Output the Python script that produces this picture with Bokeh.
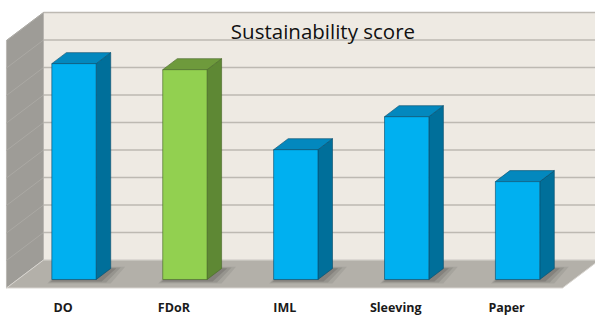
from bokeh.plotting import figure
from bokeh.models import Range1d, ColumnDataSource
from bokeh.embed import file_html
from bokeh.resources import INLINE
from bokeh.core.properties import value

# ---- data ----
categories = ["DO", "FDoR", "IML", "Sleeving", "Paper"]
scores = [7.85, 7.63, 4.72, 5.92, 3.56]
highlight = [False, True, False, False, False]
grid_levels = list(range(1, 10))
title_text = "Sustainability score"

# ---- layout constants (data units) ----
BAR_W = 0.40
BAR_DX, BAR_DY = 0.131, 0.40
WALL_DX, WALL_DY = 0.334, 1.018
FLOOR_Y0 = -0.309
FLOOR_X0, FLOOR_X1 = -0.609, 4.405
WALL_H = 9
BASE = FLOOR_Y0 + WALL_DY

BLUE = dict(front="#00B0F0", top="#0388BE", side="#006F9A", edge="#0A4F6E")
GREEN = dict(front="#92D050", top="#6E9A3C", side="#5E8834", edge="#4A6A2A")

p = figure(width=595, height=316, output_backend="svg", toolbar_location=None,
           x_range=Range1d(-0.6628, 4.7025), y_range=Range1d(-1.3455, 10.1455),
           min_border=0, background_fill_color="white", border_fill_color="white",
           outline_line_color=None)
p.axis.visible = False
p.grid.visible = False

# back wall
bx0, bx1 = FLOOR_X0 + WALL_DX, FLOOR_X1 + WALL_DX
p.patch([bx0, bx1, bx1, bx0], [BASE, BASE, BASE + WALL_H, BASE + WALL_H],
        fill_color="#EEEAE3", line_color="#D2CEC8", line_width=1)
# side wall
p.patch([FLOOR_X0, bx0, bx0, FLOOR_X0],
        [FLOOR_Y0, BASE, BASE + WALL_H, FLOOR_Y0 + WALL_H],
        fill_color="#9E9C97", line_color="#B8B5B0", line_width=0.8)
# gridlines
p.multi_line([[bx0, bx1] for k in grid_levels],
             [[BASE + k, BASE + k] for k in grid_levels],
             line_color="#BDB9B2", line_width=1.6)
p.multi_line([[FLOOR_X0, bx0] for k in grid_levels],
             [[FLOOR_Y0 + k, BASE + k] for k in grid_levels],
             line_color="#ABA9A4", line_width=1.0)
# floor
p.patch([FLOOR_X0, FLOOR_X1, bx1, bx0], [FLOOR_Y0, FLOOR_Y0, BASE, BASE],
        fill_color="#B3B0A9", line_color="#D8D5D0", line_width=1)

# shadows
for grow, alpha in [(0.10, 0.10), (0.06, 0.14), (0.02, 0.20)]:
    xs, ys = [], []
    for i in range(len(scores)):
        l = i - BAR_W / 2 - grow * 0.4
        r = i + BAR_W / 2 + grow + 0.03
        xs.append([l, r, r + BAR_DX, l + BAR_DX])
        ys.append([-0.05 - grow, -0.05 - grow, BAR_DY + grow * 0.6, BAR_DY + grow * 0.6])
    p.patches(xs, ys, fill_color="#3A3936", fill_alpha=alpha, line_color=None)

# bars
fx, fy, sx, sy, tx, ty = [], [], [], [], [], []
fc, sc, tc, ec = [], [], [], []
for i, v in enumerate(scores):
    l, r = i - BAR_W / 2, i + BAR_W / 2
    fx.append([l, r, r, l]); fy.append([0, 0, v, v])
    sx.append([r, r + BAR_DX, r + BAR_DX, r]); sy.append([0, BAR_DY, v + BAR_DY, v])
    tx.append([l, r, r + BAR_DX, l + BAR_DX]); ty.append([v, v, v + BAR_DY, v + BAR_DY])
    pal = GREEN if highlight[i] else BLUE
    fc.append(pal["front"]); sc.append(pal["side"]); tc.append(pal["top"]); ec.append(pal["edge"])

for xs_, ys_, cs_ in [(sx, sy, sc), (tx, ty, tc), (fx, fy, fc)]:
    p.patches(xs="xs", ys="ys", fill_color="c", line_color="e", line_width=0.8, line_alpha=0.8,
              source=ColumnDataSource(dict(xs=xs_, ys=ys_, c=cs_, e=ec)))

# category labels
p.text(x=[i - 0.099 for i in range(len(categories))], y=[-1.018] * len(categories),
       text=categories, text_font=value("Open Sans"), text_font_style="bold",
       text_font_size="12.5px", text_align="center", text_baseline="middle",
       text_color="#1A1A1A")

# title
p.text(x=[2.245], y=[9.029], text=[title_text], text_font=value("Open Sans"),
       text_font_size="20.5px", text_align="center", text_baseline="alphabetic",
       text_color="#111111")

open("out.html", "w").write(file_html(p, INLINE))
